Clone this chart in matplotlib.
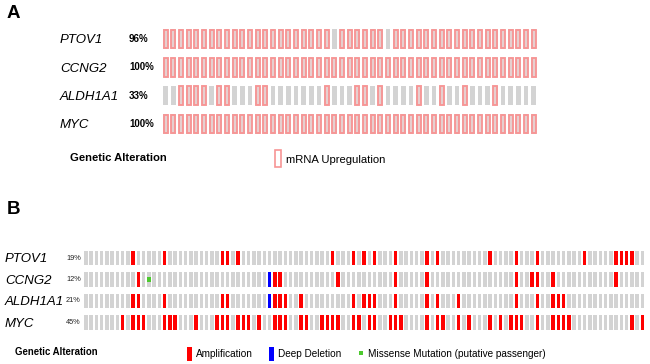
import matplotlib
matplotlib.use('Agg')
import matplotlib.pyplot as plt
from matplotlib.patches import Rectangle
from matplotlib.transforms import blended_transform_factory

plt.rcParams['font.family'] = ['Liberation Sans', 'DejaVu Sans']

# ---------------- data ----------------
genes = ['PTOV1', 'CCNG2', 'ALDH1A1', 'MYC']

# Panel A: mRNA upregulation (49 samples)
n_samples_a = 49
pct_a = ['96%', '100%', '33%', '100%']
ptov1_a_unaltered = [22, 29]
ccng2_a_unaltered = []
aldh1a1_a_up = [2, 3, 4, 5, 7, 8, 12, 13, 21, 25, 26, 28, 33, 36, 39, 43]
myc_a_unaltered = []

# Panel B: copy number / mutation (107 samples)
n_samples_b = 107
pct_b = ['19%', '12%', '21%', '45%']
ptov1_amp = [9, 15, 26, 27, 29, 47, 51, 53, 55, 59, 65, 67, 77, 82, 86, 95,
             101, 102, 103, 104]
ccng2_amp = [10, 36, 37, 48, 59, 65, 82, 85, 86, 89, 101]
ccng2_del = [35]
ccng2_mis = [12]
aldh1a1_amp = [9, 10, 15, 26, 27, 36, 37, 38, 41, 51, 53, 54, 55, 59, 65, 67,
               71, 82, 86, 89, 90, 91]
aldh1a1_del = [35]
myc_amp = [7, 9, 10, 11, 15, 16, 17, 21, 25, 26, 27, 29, 30, 31, 33, 36, 37,
           38, 41, 42, 45, 46, 47, 48, 51, 52, 54, 55, 58, 59, 60, 65, 67, 68,
           71, 73, 77, 79, 81, 82, 83, 86, 89, 90, 91, 92, 104, 106]

# ---------------- styles ----------------
GRAY = '#D3D3D3'
PINK = '#F79595'
RED = '#FF0000'
BLUE = '#0000FF'
GREEN = '#4CC92E'

W, H = 650, 364
fig = plt.figure(figsize=(W / 100, H / 100), dpi=100)


def px_axes(x0, y0, x1, y1):
    ax = fig.add_axes([x0 / W, 1 - y1 / H, (x1 - x0) / W, (y1 - y0) / H])
    ax.axis('off')
    return ax


def fig_px(x, y):
    return x / W, 1 - y / H


# ---------------- Panel A ----------------
axA = px_axes(161.8, 24.8, 537.5, 138.2)
axA.set_xlim(-0.5, n_samples_a - 0.5)
axA.set_ylim(len(genes) - 0.5, -0.5)
bw_a, bh_a = 0.63, 0.69
all_a = list(range(n_samples_a))
up_a = [
    [i for i in all_a if i not in ptov1_a_unaltered],
    [i for i in all_a if i not in ccng2_a_unaltered],
    aldh1a1_a_up,
    [i for i in all_a if i not in myc_a_unaltered],
]
for r in range(len(genes)):
    axA.bar(all_a, bh_a, bottom=r - bh_a / 2, width=bw_a, color=GRAY,
            linewidth=0)
    axA.bar(up_a[r], bh_a * 0.94, bottom=r - bh_a * 0.94 / 2,
            width=bw_a * 0.8, facecolor='#E6CFCF', edgecolor=PINK,
            linewidth=1.35)

trA = blended_transform_factory(fig.transFigure, axA.transData)
for r, (g, p) in enumerate(zip(genes, pct_a)):
    axA.text(60 / W, r + 0.05, g, transform=trA, fontsize=9.5,
             style='italic', ha='left', va='center')
    axA.text(129 / W, r + 0.0, p, transform=trA, fontsize=7,
             fontweight='bold', ha='left', va='center')

fig.text(*fig_px(7, 13), 'A', fontsize=13.5, fontweight='bold',
         ha='left', va='center')
fig.text(*fig_px(70, 158), 'Genetic Alteration', fontsize=8.1,
         fontweight='bold', ha='left', va='center')
fig.patches.append(Rectangle(fig_px(274.5, 167.5), 6 / W, 17 / H,
                             transform=fig.transFigure, facecolor='white',
                             edgecolor=PINK, linewidth=1.2))
fig.text(*fig_px(286, 160), 'mRNA Upregulation', fontsize=8.1,
         ha='left', va='center')

# ---------------- Panel B ----------------
axB = px_axes(83.3, 247.25, 83.3 + n_samples_b * 5.25, 333.25)
axB.set_xlim(-0.5, n_samples_b - 0.5)
axB.set_ylim(len(genes) - 0.5, -0.5)
bw_b, bh_b = 0.68, 0.67
all_b = list(range(n_samples_b))
amps = [ptov1_amp, ccng2_amp, aldh1a1_amp, myc_amp]
dels = [[], ccng2_del, aldh1a1_del, []]
mis = [[], ccng2_mis, [], []]
for r in range(len(genes)):
    axB.bar(all_b, bh_b, bottom=r - bh_b / 2, width=bw_b, color=GRAY,
            linewidth=0)
    if amps[r]:
        axB.bar(amps[r], bh_b, bottom=r - bh_b / 2, width=bw_b, color=RED,
                linewidth=0)
    if dels[r]:
        axB.bar(dels[r], bh_b, bottom=r - bh_b / 2, width=bw_b, color=BLUE,
                linewidth=0)
    if mis[r]:
        axB.bar(mis[r], 0.22, bottom=r - 0.11, width=0.85, color=GREEN,
                linewidth=0)

trB = blended_transform_factory(fig.transFigure, axB.transData)
for r, (g, p) in enumerate(zip(genes, pct_b)):
    axB.text(5 / W, r + 0.05, g, transform=trB, fontsize=9.5,
             style='italic', ha='left', va='center')
    axB.text(66 / W, r + 0.0, p, transform=trB, fontsize=5.3,
             ha='left', va='center', color='#222222')

fig.text(*fig_px(7, 210), 'B', fontsize=13.5, fontweight='bold',
         ha='left', va='center')
fig.text(*fig_px(15, 352), 'Genetic Alteration', fontsize=6.9,
         fontweight='bold', ha='left', va='center')
fig.patches.append(Rectangle(fig_px(187, 361), 5 / W, 14 / H,
                             transform=fig.transFigure, facecolor=RED,
                             edgecolor='none'))
fig.text(*fig_px(196, 354), 'Amplification', fontsize=7.2,
         ha='left', va='center')
fig.patches.append(Rectangle(fig_px(269, 361), 5 / W, 14 / H,
                             transform=fig.transFigure, facecolor=BLUE,
                             edgecolor='none'))
fig.text(*fig_px(278, 354), 'Deep Deletion', fontsize=7.2,
         ha='left', va='center')
fig.patches.append(Rectangle(fig_px(359, 355), 4 / W, 4 / H,
                             transform=fig.transFigure, facecolor=GREEN,
                             edgecolor='none'))
fig.text(*fig_px(368, 354), 'Missense Mutation (putative passenger)',
         fontsize=7.2, ha='left', va='center')

fig.savefig('out.png', dpi=100)
